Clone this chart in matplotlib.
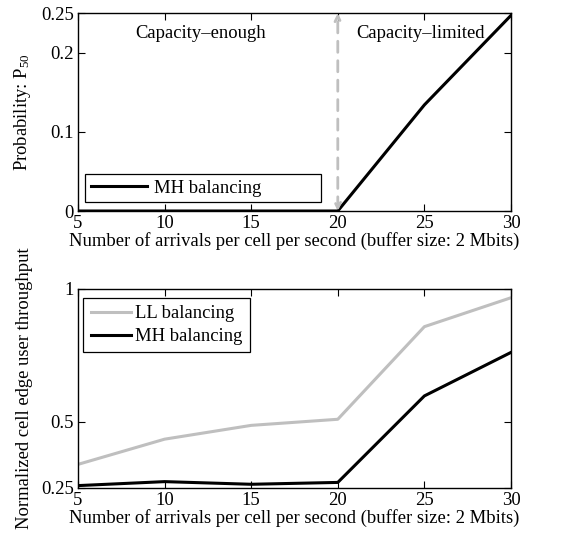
import matplotlib
matplotlib.use("Agg")
import matplotlib.pyplot as plt

plt.rcParams['font.family'] = ['Liberation Serif', 'DejaVu Serif']
plt.rcParams['mathtext.fontset'] = 'custom'
plt.rcParams['mathtext.rm'] = 'Liberation Serif'
plt.rcParams['mathtext.it'] = 'Liberation Serif'

x = [5, 10, 15, 20, 25, 30]
p50_mh = [0, 0, 0, 0, 0.134, 0.247]
thr_ll = [0.339, 0.434, 0.486, 0.509, 0.858, 0.967]
thr_mh = [0.259, 0.274, 0.264, 0.271, 0.597, 0.761]
xticks = [5, 10, 15, 20, 25, 30]
yticks_top = [0, 0.1, 0.2, 0.25]
yticks_bot = [0.25, 0.5, 1]
xlabel = "Number of arrivals per cell per second (buffer size: 2 Mbits)"

FS = 13.4
gray = (0.75, 0.75, 0.75)

fig = plt.figure(figsize=(5.66, 5.43), dpi=100)
ax1 = fig.add_axes([0.1378, 0.6114, 0.765, 0.3646])
ax2 = fig.add_axes([0.1378, 0.1013, 0.765, 0.3665])

for ax in (ax1, ax2):
    ax.tick_params(direction='in', top=True, right=True, labelsize=FS, length=5, width=0.8, pad=3)
    ax.set_xlim(5, 30)
    ax.set_xticks(xticks)
    ax.set_xticklabels([str(v) for v in xticks])
    ax.set_xlabel(xlabel, fontsize=FS, labelpad=0)
    for s in ax.spines.values():
        s.set_linewidth(1.0)

# Top plot
ax1.plot(x, p50_mh, color='black', lw=2.2, label='MH balancing')
ax1.set_ylim(0, 0.25)
ax1.set_yticks(yticks_top)
ax1.set_yticklabels(['0', '0.1', '0.2', '0.25'])
ax1.set_ylabel('Probability: P$_{50}$', fontsize=FS, labelpad=6)
ax1.annotate('', xy=(20, 0.25), xytext=(20, 0.0),
             arrowprops=dict(arrowstyle='<->', color=gray, lw=2, linestyle=(0, (4, 3)),
                             shrinkA=0, shrinkB=0, mutation_scale=10))
ax1.text(12.05, 0.224, 'Capacity–enough', fontsize=FS, ha='center', va='center')
ax1.text(24.8, 0.224, 'Capacity–limited', fontsize=FS, ha='center', va='center')
leg1 = ax1.legend(loc='lower left', bbox_to_anchor=(0.016, 0.045, 0.545, 0.152), mode='expand',
                  fontsize=FS, handlelength=3.05, handletextpad=0.35, fancybox=False, framealpha=1,
                  edgecolor='black', borderaxespad=0, borderpad=0.3)
leg1.get_frame().set_linewidth(0.9)

# Bottom plot
ax2.plot(x, thr_ll, color=gray, lw=2.2, label='LL balancing')
ax2.plot(x, thr_mh, color='black', lw=2.2, label='MH balancing')
ax2.set_ylim(0.25, 1)
ax2.set_yticks(yticks_bot)
ax2.set_yticklabels(['0.25', '0.5', '1'])
ax2.set_ylabel('Normalized cell edge user throughput', fontsize=FS, labelpad=6)
leg2 = ax2.legend(loc='upper left', bbox_to_anchor=(0.012, 0.955), fontsize=FS,
                  handlelength=2.15, handletextpad=0.25, fancybox=False, framealpha=1,
                  edgecolor='black', borderaxespad=0, borderpad=0.4, labelspacing=0.3)
leg2.get_frame().set_linewidth(0.9)

fig.savefig('out.png', dpi=100)
